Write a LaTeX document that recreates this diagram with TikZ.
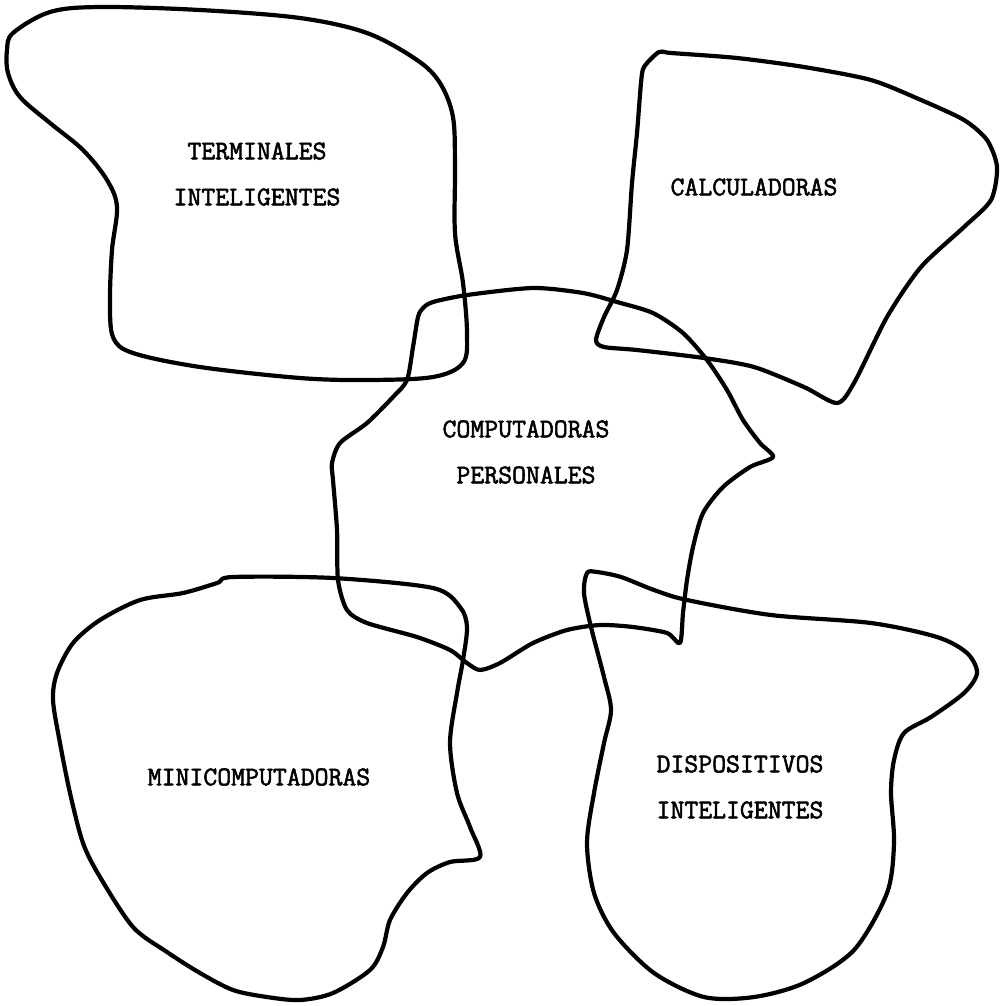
\documentclass[tikz,border=0pt]{standalone}
\usepackage{fontspec}
\usepackage{tikz}
\newfontfamily\typewfont{Latin Modern Mono}[FakeBold=2]

\begin{document}
\begin{tikzpicture}[
    x=1pt, y=-1pt,
    blob/.style={draw=black, line width=4.2pt, line join=round, line cap=round},
    lbl/.style={font=\fontsize{27}{30}\selectfont\typewfont, align=center, inner sep=0pt}
  ]
    \useasboundingbox (0,0) rectangle (1008,1005);
    % Terminales
    \draw[blob] plot[smooth cycle, tension=0.55] coordinates {
      (13,33) (50,12) (100,7) (200,10) (300,18) (367,33) (417,60) (440,83)
      (453,117) (455,167) (455,233) (463,283) (467,333) (463,363) (433,377)
      (367,380) (300,378) (200,367) (133,353) (113,337) (110,300) (112,250)
      (117,207) (107,180) (83,150) (50,123) (20,97) (8,73) (7,50)};
    % Calculadoras
    \draw[blob] plot[smooth cycle, tension=0.45] coordinates {
      (659,52) (644,67) (641,83) (637,133) (632,183) (627,250) (617,290)
      (604,317) (596,340) (604,347) (637,350) (704,358) (754,367) (804,387)
      (837,403) (854,383) (887,317) (921,267) (964,227) (991,200) (997,167)
      (987,140) (964,120) (921,100) (871,80) (804,67) (737,58) (671,53)};
    % Computadoras personales
    \draw[blob] plot[smooth cycle, tension=0.45] coordinates {
      (423,308) (433,302) (467,295) (533,288) (583,293) (617,302) (653,313)
      (683,333) (707,360) (727,390) (743,420) (760,443) (773,457) (750,467)
      (723,487) (703,513) (693,547) (687,580) (683,613) (680,643) (667,633)
      (633,627) (600,625) (567,630) (533,643) (500,663) (480,670) (467,663)
      (450,650) (417,637) (367,623) (347,610) (338,580) (337,530) (333,480)
      (332,463) (340,443) (367,423) (393,397) (407,380) (413,347) (418,317)};
    % Minicomputadoras
    \draw[blob] plot[smooth cycle, tension=0.5] coordinates {
      (233,577) (333,578) (433,588) (460,607) (467,627) (463,660) (457,693)
      (450,743) (457,793) (470,827) (480,857) (450,862) (427,873) (407,893)
      (390,920) (383,947) (370,970) (333,993) (300,1000) (267,997) (233,990)
      (200,973) (167,952) (133,927) (100,877) (83,843) (70,793) (60,743)
      (53,700) (57,673) (73,643) (100,620) (140,600) (183,593) (217,583)};
    % Dispositivos
    \draw[blob] plot[smooth cycle, tension=0.5] coordinates {
      (587,573) (584,593) (591,627) (604,677) (611,710) (604,743) (594,793)
      (587,843) (594,893) (614,933) (654,973) (704,997) (754,997) (804,983)
      (854,950) (887,893) (894,843) (891,793) (894,760) (904,733) (931,717)
      (964,693) (977,673) (967,653) (937,637) (871,623) (771,615) (687,600)
      (654,590) (621,577) (597,572)};

    \node[lbl](term)  at (257,174) {TERMINALES\\[16pt]INTELIGENTES};
    \node[lbl](calc)  at (754,187) {CALCULADORAS};
    \node[lbl](pc)    at (526,452) {COMPUTADORAS\\[16pt]PERSONALES};
    \node[lbl](mini)  at (259,777) {MINICOMPUTADORAS};
    \node[lbl](disp)  at (740,787) {DISPOSITIVOS\\[16pt]INTELIGENTES};
  \end{tikzpicture}
\end{document}
